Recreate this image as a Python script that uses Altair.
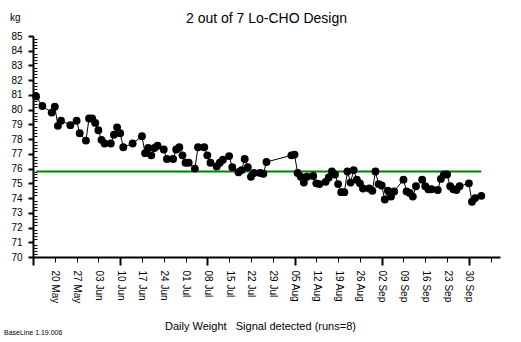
import altair as alt
import pandas as pd

# ---- data ----
dates = [
    "2012-05-14", "2012-05-16", "2012-05-19", "2012-05-20", "2012-05-21", "2012-05-22",
    "2012-05-25", "2012-05-27", "2012-05-28", "2012-05-30", "2012-05-31", "2012-06-01",
    "2012-06-02", "2012-06-03", "2012-06-04", "2012-06-05", "2012-06-07", "2012-06-08",
    "2012-06-09", "2012-06-10", "2012-06-11", "2012-06-14", "2012-06-17", "2012-06-18",
    "2012-06-19", "2012-06-20", "2012-06-21", "2012-06-22", "2012-06-24", "2012-06-25",
    "2012-06-27", "2012-06-28", "2012-06-29", "2012-06-30", "2012-07-01", "2012-07-02",
    "2012-07-04", "2012-07-05", "2012-07-07", "2012-07-08", "2012-07-09", "2012-07-11",
    "2012-07-12", "2012-07-13", "2012-07-15", "2012-07-16", "2012-07-18", "2012-07-19",
    "2012-07-20", "2012-07-21", "2012-07-22", "2012-07-23", "2012-07-25", "2012-07-26",
    "2012-07-27", "2012-08-04", "2012-08-05", "2012-08-06", "2012-08-07", "2012-08-08",
    "2012-08-09", "2012-08-11", "2012-08-12", "2012-08-13", "2012-08-15", "2012-08-16",
    "2012-08-17", "2012-08-18", "2012-08-19", "2012-08-20", "2012-08-21", "2012-08-22",
    "2012-08-23", "2012-08-24", "2012-08-25", "2012-08-26", "2012-08-27", "2012-08-29",
    "2012-08-30", "2012-08-31", "2012-09-01", "2012-09-02", "2012-09-03", "2012-09-04",
    "2012-09-05", "2012-09-06", "2012-09-09", "2012-09-10", "2012-09-11", "2012-09-12",
    "2012-09-13", "2012-09-15", "2012-09-16", "2012-09-17", "2012-09-18", "2012-09-20",
    "2012-09-21", "2012-09-22", "2012-09-23", "2012-09-24", "2012-09-25", "2012-09-26",
    "2012-09-27", "2012-09-30", "2012-10-01", "2012-10-02", "2012-10-04",
]
weights = [
    80.9, 80.25, 79.8, 80.2, 78.9, 79.25,
    78.95, 79.25, 78.4, 77.9, 79.4, 79.4,
    79.1, 78.6, 77.95, 77.7, 77.7, 78.3,
    78.8, 78.4, 77.45, 77.7, 78.2, 77.05,
    77.4, 76.9, 77.4, 77.55, 77.3, 76.65,
    76.65, 77.3, 77.45, 76.9, 76.4, 76.4,
    76.0, 77.45, 77.45, 76.9, 76.4, 76.15,
    76.4, 76.6, 76.85, 76.1, 75.75, 75.9,
    76.65, 76.1, 75.45, 75.7, 75.7, 75.65,
    76.45, 76.9, 76.95, 75.7, 75.45, 75.05,
    75.45, 75.5, 75.0, 74.95, 75.1, 75.4,
    75.8, 75.6, 74.95, 74.4, 74.4, 75.8,
    75.05, 75.9, 75.25, 75.0, 74.65, 74.65,
    74.5, 75.8, 74.95, 74.85, 73.9, 74.5,
    74.1, 74.45, 75.25, 74.45, 74.35, 74.1,
    74.8, 75.25, 74.8, 74.6, 74.6, 74.55,
    75.3, 75.6, 75.6, 74.8, 74.6, 74.55,
    74.8, 75.0, 73.75, 74.0, 74.15,
]
baseline_value = 75.8

week_labels = ["2012-05-20", "2012-05-27", "2012-06-03", "2012-06-10", "2012-06-17",
               "2012-06-24", "2012-07-01", "2012-07-08", "2012-07-15", "2012-07-22",
               "2012-07-29", "2012-08-05", "2012-08-12", "2012-08-19", "2012-08-26",
               "2012-09-02", "2012-09-09", "2012-09-16", "2012-09-23", "2012-09-30"]
major_ticks = ["2012-05-13", "2012-06-10", "2012-07-08", "2012-08-05", "2012-09-02", "2012-09-30"]
extra_ticks = ["2012-10-07"]
x_domain = ["2012-05-13", "2012-10-10"]
y_ticks = list(range(70, 86))
y_minor = [round(70 + i * 0.2, 1) for i in range(0, 76) if i % 5 != 0]

title_text = "2 out of 7 Lo-CHO Design"
y_unit = "kg"
x_title = "Daily Weight\u00a0\u00a0\u00a0Signal detected (runs=8)"
footer = "BaseLine 1.19.006"


def dt(s):
    y, m, d = s.split("-")
    return alt.DateTime(year=int(y), month=int(m), date=int(d), utc=True)


df = pd.DataFrame({"date": dates, "w": weights})
base_df = pd.DataFrame({"start": [dates[0]], "end": [dates[-1]], "v": [baseline_value]})

FONT = "Liberation Sans"
xscale = alt.Scale(type="utc", domain=[dt(x_domain[0]), dt(x_domain[1])])
yscale = alt.Scale(domain=[70, 85], nice=False, zero=False)

main_x_axis = alt.Axis(
    orient="bottom",
    values=[dt(s) for s in week_labels], labelExpr="utcFormat(datum.value, '%d %b')",
    labelAngle=90, labelAlign="left", labelBaseline="middle", labelPadding=8,
    labelFontSize=10, labelFont=FONT, labelColor="black",
    tickSize=5, tickWidth=1, tickColor="black",
    domainColor="black", domainWidth=2, grid=False, labelOverlap=False,
    title=x_title, titleFont=FONT, titleFontSize=11, titleFontWeight="normal",
    titleColor="black", titleX=227, titleY=69, titleBaseline="middle",
)
major_x_axis = alt.Axis(
    orient="bottom",
    values=[dt(s) for s in major_ticks], labels=False, domain=False, grid=False,
    tickSize=8, tickWidth=2, tickColor="black", title=None,
)
extra_x_axis = alt.Axis(
    orient="bottom",
    values=[dt(s) for s in extra_ticks], labels=False, domain=False, grid=False,
    tickSize=5, tickWidth=1, tickColor="black", title=None,
)
main_y_axis = alt.Axis(
    orient="left", values=y_ticks, labelFontSize=10, labelFont=FONT, labelColor="black",
    labelPadding=6, tickSize=5, tickWidth=2, tickColor="black",
    domainColor="black", domainWidth=2, grid=False, title=None,
)
minor_y_axis = alt.Axis(
    orient="left", values=y_minor, labels=False, domain=False, grid=False,
    tickSize=3, tickWidth=1, tickColor="black", offset=-4, title=None,
)

line = alt.Chart(df).mark_line(color="black", strokeWidth=1).encode(
    x=alt.X("date:T", scale=xscale, axis=major_x_axis),
    y=alt.Y("w:Q", scale=yscale, axis=minor_y_axis),
)
rule = alt.Chart(base_df).mark_rule(color="#008000", strokeWidth=2).encode(
    x=alt.X("start:T", scale=xscale, axis=extra_x_axis),
    x2="end:T",
    y=alt.Y("v:Q", scale=yscale, axis=None),
)
points = alt.Chart(df).mark_point(filled=True, shape="circle", size=62, color="black", opacity=1).encode(
    x=alt.X("date:T", scale=xscale, axis=main_x_axis),
    y=alt.Y("w:Q", scale=yscale, axis=main_y_axis),
)
foot = alt.Chart(pd.DataFrame({"t": [footer]})).mark_text(
    align="left", baseline="middle", fontSize=7, font=FONT, color="black"
).encode(text="t:N", x=alt.value(-29), y=alt.value(297))
unit = alt.Chart(pd.DataFrame({"t": [y_unit]})).mark_text(
    align="left", baseline="middle", fontSize=10, font=FONT, color="black"
).encode(text="t:N", x=alt.value(-23), y=alt.value(-18))

chart = alt.layer(line, rule, points, foot, unit).resolve_axis(x="independent", y="independent").properties(
    width=467, height=221,
    autosize=alt.AutoSizeParams(type="none"),
    padding={"left": 33, "top": 36, "right": 21, "bottom": 85},
    background="white",
    title=alt.TitleParams(title_text, font=FONT, fontSize=14, fontWeight="normal",
                          color="black", anchor="middle", offset=7, dy=20),
).configure_view(stroke=None)

chart.save("out.html", embed_options={"renderer": "svg", "actions": False})
